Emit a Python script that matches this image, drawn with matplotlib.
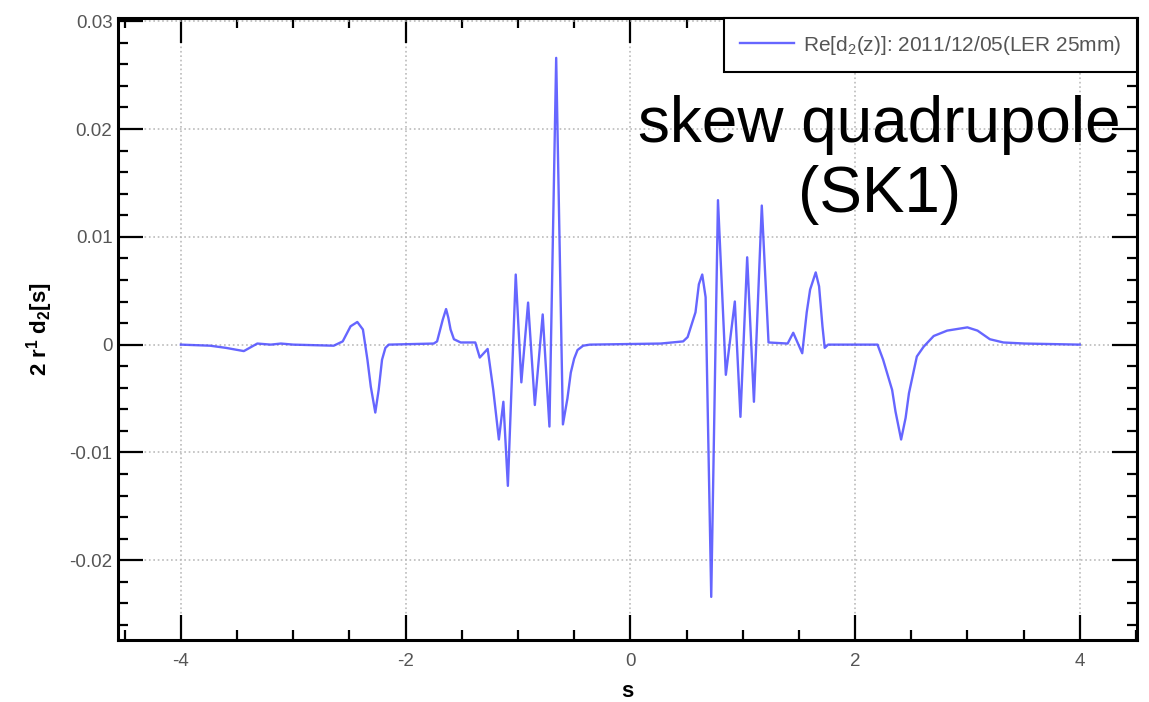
import matplotlib
matplotlib.use("Agg")
import matplotlib.pyplot as plt
from matplotlib.ticker import MultipleLocator

plt.rcParams['font.family'] = ['Liberation Sans', 'DejaVu Sans']
plt.rcParams['mathtext.fontset'] = 'custom'
plt.rcParams['mathtext.rm'] = 'Liberation Sans'
plt.rcParams['mathtext.bf'] = 'Liberation Sans:bold'

# valores: posicion s y 2 r^1 d2[s]
s = [-4.00, -3.74, -3.60, -3.44, -3.32, -3.20, -3.11, -3.00, -2.64, -2.56,
     -2.49, -2.43, -2.38, -2.34, -2.31, -2.27, -2.24, -2.21, -2.18, -2.15,
     -1.75, -1.72, -1.67, -1.64, -1.62, -1.60, -1.57, -1.51, -1.38, -1.34,
     -1.27, -1.22, -1.17, -1.13, -1.09, -1.02, -0.97, -0.91, -0.85, -0.78,
     -0.72, -0.66, -0.60, -0.56, -0.53, -0.50, -0.47, -0.42, -0.36,
     0.27, 0.47, 0.51, 0.58, 0.61, 0.64, 0.67, 0.72, 0.78, 0.85, 0.93, 0.98,
     1.04, 1.10, 1.17, 1.23, 1.40, 1.45, 1.53, 1.57, 1.60, 1.65, 1.68, 1.71, 1.73, 1.76,
     2.20, 2.25, 2.33, 2.36, 2.41, 2.45, 2.48, 2.55, 2.61, 2.70, 2.82,
     3.00, 3.09, 3.20, 3.32, 3.51, 4.00]
d2 = [0.0, -0.0001, -0.0003, -0.0006, 0.0001, 0.0, 0.0001, 0.0, -0.0001, 0.0003,
      0.0017, 0.0021, 0.0014, -0.0014, -0.0039, -0.0063, -0.0042, -0.0014, -0.0003, 0.0,
      0.0001, 0.0003, 0.0023, 0.0033, 0.0025, 0.0014, 0.0005, 0.0002, 0.0002, -0.0012,
      -0.0004, -0.0042, -0.0088, -0.0053, -0.0131, 0.0065, -0.0035, 0.0039, -0.0056, 0.0028,
      -0.0076, 0.0266, -0.0074, -0.0050, -0.0026, -0.0013, -0.0005, -0.0001, 0.0,
      0.0001, 0.0003, 0.0007, 0.0030, 0.0056, 0.0065, 0.0044, -0.0234, 0.0134, -0.0028, 0.0040, -0.0067,
      0.0081, -0.0053, 0.0129, 0.0002, 0.0001, 0.0011, -0.0008, 0.0030, 0.0051, 0.0067, 0.0054, 0.0017, -0.0003, 0.0,
      0.0, -0.0014, -0.0042, -0.0062, -0.0088, -0.0068, -0.0045, -0.0011, -0.0002, 0.0008, 0.0013,
      0.0016, 0.0013, 0.0005, 0.0002, 0.0001, 0.0]

etiqueta = r"Re[d$_2$(z)]: 2011/12/05(LER 25mm)"

fig = plt.figure(figsize=(11.49, 7.02), dpi=100)
ax = fig.add_axes([0.1027, 0.0883, 0.8869, 0.8861])

ax.plot(s, d2, color='#4b4bff', lw=1.7, alpha=0.85, label=etiqueta)

ax.set_xlim(-4.56, 4.51)
ax.set_ylim(-0.0274, 0.0303)
ax.xaxis.set_major_locator(MultipleLocator(2))
ax.xaxis.set_minor_locator(MultipleLocator(0.5))
ax.yaxis.set_major_locator(MultipleLocator(0.01))
ax.yaxis.set_minor_locator(MultipleLocator(0.002))
ax.xaxis.set_major_formatter(plt.FuncFormatter(lambda v, p: "%g" % v))
ax.yaxis.set_major_formatter(plt.FuncFormatter(lambda v, p: "%g" % round(v, 3)))

ax.tick_params(which='both', direction='in', top=True, right=True,
               colors='black', labelcolor='#555555', labelsize=13.5)
ax.tick_params(which='major', length=18, width=1.6)
ax.tick_params(which='minor', length=7, width=1.6)
ax.tick_params(axis='x', pad=9)
ax.tick_params(axis='y', pad=4)
for sp in ax.spines.values():
    sp.set_linewidth(2.2)

ax.grid(True, which='major', linestyle=':', color='#bbbbbb', lw=1.2)

ax.set_xlabel("s", fontsize=16, fontweight='bold', labelpad=8)
ax.set_ylabel(r"2 r$^\mathbf{1}$ d$_\mathbf{2}$[s]", fontsize=16, fontweight='bold', labelpad=10)

leg = ax.legend(loc='upper right', bbox_to_anchor=(1.0, 1.0), borderaxespad=0.0,
                fancybox=False, framealpha=1, edgecolor='black', fontsize=15,
                handlelength=2.6, handletextpad=0.45, borderpad=0.75,
                labelcolor='#555555')
leg.get_frame().set_linewidth(1.5)

ax.text(2.22, 0.0188, "skew quadrupole", fontsize=46, ha='center', va='baseline')
ax.text(2.22, 0.0123, "(SK1)", fontsize=46, ha='center', va='baseline')

fig.savefig("out.png", dpi=100)
